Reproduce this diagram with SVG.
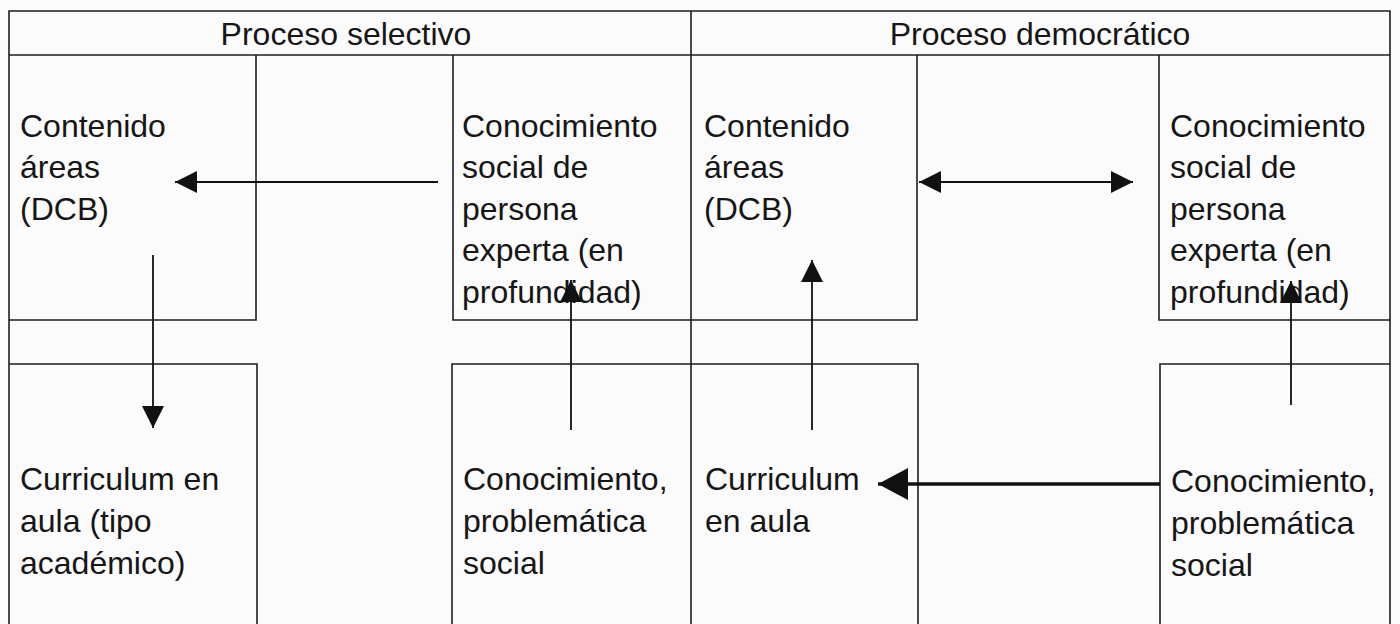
<svg xmlns="http://www.w3.org/2000/svg" width="1400" height="624" viewBox="0 0 1400 624">
  <defs>
    <style>
      .bg { fill: #fbfbfb; }
      .box { fill: none; stroke: #1e1e1e; stroke-width: 1.6; }
      .t { font-family: "Liberation Sans", Arial, sans-serif; font-size: 32px; fill: #161616; }
      .hd { text-anchor: middle; }
      .c { stroke: #111; stroke-width: 1.8; fill: none; }
      .thick { stroke-width: 3.6; }
    </style>
    <marker id="ah" markerUnits="userSpaceOnUse" viewBox="0 0 22 22" refX="22" refY="11" markerWidth="22" markerHeight="22" orient="auto-start-reverse">
      <path d="M0,0 L22,11 L0,22 z" fill="#111"/>
    </marker>
    <marker id="ahBig" markerUnits="userSpaceOnUse" viewBox="0 0 30 32" refX="30" refY="16" markerWidth="30" markerHeight="32" orient="auto">
      <path d="M0,0 L30,16 L0,32 z" fill="#111"/>
    </marker>
  </defs>

  <rect class="bg" x="0" y="0" width="1400" height="624"/>

  <g id="frame">
    <path class="box" d="M9,630 V11 H1390 V630"/>
    <line class="box" x1="691" y1="11" x2="691" y2="630"/>
  </g>

  <g id="header-selectivo">
    <path class="box" d="M9,55 H691"/>
    <text class="t hd" x="346" y="45">Proceso selectivo</text>
  </g>
  <g id="header-democratico">
    <path class="box" d="M691,55 H1390"/>
    <text class="t hd" x="1040" y="45">Proceso democrático</text>
  </g>

  <g id="sel-contenido">
    <path class="box" d="M9,320 H256 V55"/>
    <text class="t" x="20" y="137">Contenido</text>
    <text class="t" x="20" y="178">áreas</text>
    <text class="t" x="20" y="220">(DCB)</text>
  </g>

  <g id="sel-conocimiento-experto">
    <path class="box" d="M453,55 V320 H691"/>
    <text class="t" x="462" y="137">Conocimiento</text>
    <text class="t" x="462" y="178">social de</text>
    <text class="t" x="462" y="220">persona</text>
    <text class="t" x="462" y="261">experta (en</text>
    <text class="t" x="462" y="303">profundidad)</text>
  </g>

  <g id="sel-curriculum">
    <path class="box" d="M9,364 H257 V630"/>
    <text class="t" x="20" y="490">Curriculum en</text>
    <text class="t" x="20" y="532">aula (tipo</text>
    <text class="t" x="20" y="574">académico)</text>
  </g>

  <g id="sel-problematica">
    <path class="box" d="M452,630 V364 H691"/>
    <text class="t" x="463" y="490">Conocimiento,</text>
    <text class="t" x="463" y="532">problemática</text>
    <text class="t" x="463" y="574">social</text>
  </g>

  <g id="dem-contenido">
    <path class="box" d="M691,320 H917 V55"/>
    <text class="t" x="704" y="137">Contenido</text>
    <text class="t" x="704" y="178">áreas</text>
    <text class="t" x="704" y="220">(DCB)</text>
  </g>

  <g id="dem-conocimiento-experto">
    <path class="box" d="M1159,55 V320 H1390"/>
    <text class="t" x="1170" y="137">Conocimiento</text>
    <text class="t" x="1170" y="178">social de</text>
    <text class="t" x="1170" y="220">persona</text>
    <text class="t" x="1170" y="261">experta (en</text>
    <text class="t" x="1170" y="303">profundidad)</text>
  </g>

  <g id="dem-curriculum">
    <path class="box" d="M691,364 H918 V630"/>
    <text class="t" x="705" y="490">Curriculum</text>
    <text class="t" x="705" y="532">en aula</text>
  </g>

  <g id="dem-problematica">
    <path class="box" d="M1160,630 V364 H1390"/>
    <text class="t" x="1171" y="492">Conocimiento,</text>
    <text class="t" x="1171" y="534">problemática</text>
    <text class="t" x="1171" y="576">social</text>
  </g>

  <g id="connectors">
    <line class="c" x1="438" y1="182" x2="175" y2="182" marker-end="url(#ah)"/>
    <line class="c" x1="153" y1="255" x2="153" y2="428" marker-end="url(#ah)"/>
    <line class="c" x1="571" y1="430" x2="571" y2="280" marker-end="url(#ah)"/>
    <line class="c" x1="919" y1="182" x2="1133" y2="182" marker-start="url(#ah)" marker-end="url(#ah)"/>
    <line class="c" x1="812" y1="430" x2="812" y2="260" marker-end="url(#ah)"/>
    <line class="c" x1="1291" y1="405" x2="1291" y2="281" marker-end="url(#ah)"/>
    <line class="c thick" x1="1160" y1="484" x2="878" y2="484" marker-end="url(#ahBig)"/>
  </g>
</svg>
